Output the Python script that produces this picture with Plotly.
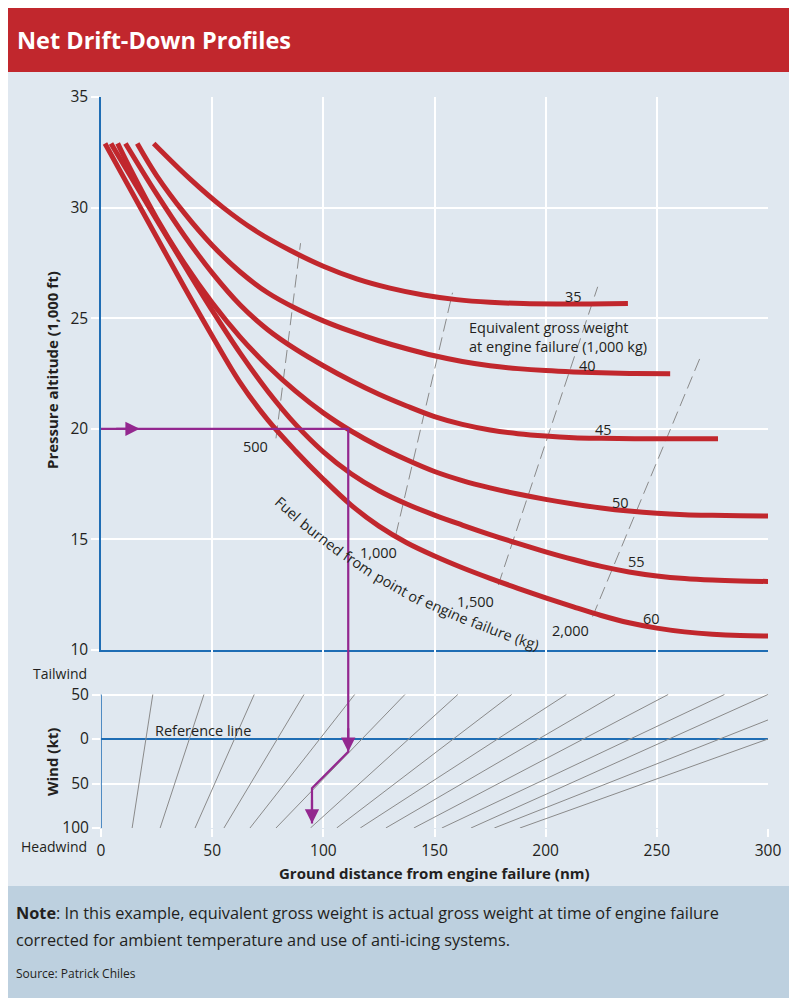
import plotly.graph_objects as go

# ---------------- data ----------------
# Net drift-down profiles: ground distance (nm) vs pressure altitude (1,000 ft)
DIST_35 = [23.7, 40, 55, 70, 85, 100, 115, 130, 145, 160, 175, 190, 205, 220, 237]
ALT_35 = [32.9, 31.3, 30.0, 28.92, 28.07, 27.35, 26.78, 26.36, 26.05, 25.84, 25.72, 25.66, 25.64, 25.64, 25.66]

DIST_40 = [16.3, 25, 37.5, 50, 62.5, 75, 87.5, 100, 112.5, 125, 137.5, 150, 162.5, 175, 187.5, 200, 212.5, 225, 240, 256]
ALT_40 = [32.9, 31.45, 29.75, 28.3, 27.1, 26.15, 25.45, 24.88, 24.4, 23.98, 23.62, 23.3, 23.04, 22.85, 22.72, 22.63, 22.57, 22.53, 22.5, 22.49]

DIST_45 = [11, 25, 37.5, 50, 62.5, 75, 87.5, 100, 112.5, 125, 137.5, 150, 162.5, 175, 187.5, 200, 212.5, 225, 240, 260, 277.5]
ALT_45 = [32.9, 30.62, 28.73, 27.05, 25.61, 24.48, 23.6, 22.85, 22.17, 21.56, 21.03, 20.55, 20.2, 19.95, 19.78, 19.67, 19.6, 19.57, 19.55, 19.55, 19.55]

DIST_50 = [7.5, 12.5, 25, 37.5, 50, 62.5, 75, 87.5, 100, 112.5, 125, 137.5, 150, 162.5, 175, 187.5, 200, 212.5, 225, 237.5, 250, 262.5, 275, 287.5, 300]
ALT_50 = [32.9, 31.88, 29.52, 27.48, 25.7, 24.16, 22.84, 21.7, 20.72, 19.9, 19.2, 18.6, 18.07, 17.66, 17.33, 17.05, 16.81, 16.6, 16.42, 16.28, 16.18, 16.12, 16.09, 16.07, 16.06]

DIST_55 = [4.5, 12.5, 25, 37.5, 50, 62.5, 75, 87.5, 100, 112.5, 125, 137.5, 150, 162.5, 175, 187.5, 200, 212.5, 225, 237.5, 250, 262.5, 275, 287.5, 300]
ALT_55 = [32.9, 31.55, 29.45, 27.38, 25.35, 23.43, 21.7, 20.2, 18.96, 17.97, 17.2, 16.6, 16.1, 15.65, 15.22, 14.82, 14.44, 14.09, 13.78, 13.53, 13.35, 13.23, 13.16, 13.12, 13.1]

DIST_60 = [1.8, 12.5, 25, 37.5, 50, 62.5, 75, 87.5, 100, 112.5, 125, 137.5, 150, 162.5, 175, 187.5, 200, 212.5, 225, 237.5, 250, 262.5, 275, 287.5, 300]
ALT_60 = [32.9, 30.95, 28.67, 26.4, 24.2, 22.1, 20.4, 19.0, 17.72, 16.55, 15.6, 14.85, 14.25, 13.72, 13.24, 12.79, 12.36, 11.95, 11.56, 11.23, 10.99, 10.82, 10.71, 10.65, 10.63]

WEIGHT_LABELS = ["35", "40", "45", "50", "55", "60"]

# Fuel burned from point of engine failure (kg): dashed guide lines
FUEL_LABELS = ["500", "1,000", "1,500", "2,000"]
FUEL_NM_LOW = [78.7, 132.6, 178.7, 221.1]
FUEL_ALT_LOW = [19.57, 15.2, 12.94, 11.51]
FUEL_NM_HIGH = [89.75, 158.1, 223.4, 270.0]
FUEL_ALT_HIGH = [28.39, 26.15, 26.42, 23.34]

# Wind correction guide lines (wind: + tailwind, - headwind, kt)
WIND_TOP_NM = [23.3, 46.3, 68.9, 91.3, 114.1, 136.7, 160.5, 184.7, 209.3, 231.2, 255.1, 280.4, 300.0, 300.0, 300.0]
WIND_TOP_KT = [50, 50, 50, 50, 50, 50, 50, 50, 50, 50, 50, 50, 50, 21.4, 0]
WIND_BOTTOM_NM = [14.0, 26.6, 42.3, 55.3, 67.0, 78.7, 94.2, 106.0, 116.6, 128.1, 140.7, 153.3, 166.4, 176.9, 188.4]
WIND_BOTTOM_KT = [-100] * 15

# Worked example
EX_ALTITUDE = 20.0
EX_DISTANCE = 111.2
EX_WIND_MEET = -14.3
EX_DISTANCE_CORR = 94.9
EX_WIND_CORR = -55.4
EX_WIND_END = -95.0

X_TICKS = [0, 50, 100, 150, 200, 250, 300]
ALT_TICKS = [10, 15, 20, 25, 30, 35]
WIND_TICKS = [50, 0, -50, -100]
WIND_TICKTEXT = ["50", "0", "50", "100"]

# ---------------- style ----------------
RED = "#c1272d"
BG = "#e0e8f0"
NOTE_BG = "#bdd0df"
BLUE = "#1f6db4"
PURPLE = "#93278f"
GRAY = "#8a8a8a"
INK = "#231f20"
FONT = "Open Sans, Noto Sans, sans-serif"

# page geometry (the page body adds an 8 px offset around the figure)
PAGE_OFF = 8
W, H = 797 - PAGE_OFF, 998 - PAGE_OFF
PLOT_L, PLOT_R, PLOT_T, PLOT_B = 101, 768, 97, 828  # page pixels
ML, MT = PLOT_L - PAGE_OFF, PLOT_T - PAGE_OFF
MR, MB = 797 - PLOT_R, 998 - PLOT_B
PW, PH = PLOT_R - PLOT_L, PLOT_B - PLOT_T
SPLIT = 178 / PH  # wind panel fraction


def px2x(px):
    return (px - PLOT_L) / PW


def py2y(py):
    return (PLOT_B - py) / PH


fig = go.Figure()

# wind guide lines
for i in range(len(WIND_TOP_NM)):
    fig.add_trace(go.Scatter(
        x=[WIND_BOTTOM_NM[i], WIND_TOP_NM[i]], y=[WIND_BOTTOM_KT[i], WIND_TOP_KT[i]],
        mode="lines", line=dict(color=GRAY, width=1), xaxis="x2", yaxis="y2",
        hoverinfo="skip", showlegend=False))

# fuel dashed lines
for i in range(len(FUEL_LABELS)):
    fig.add_trace(go.Scatter(
        x=[FUEL_NM_LOW[i], FUEL_NM_HIGH[i]], y=[FUEL_ALT_LOW[i], FUEL_ALT_HIGH[i]],
        mode="lines", line=dict(color=GRAY, width=1, dash="13px,6px"),
        hoverinfo="skip", showlegend=False))

# drift-down curves
curves = [(DIST_35, ALT_35), (DIST_40, ALT_40), (DIST_45, ALT_45),
          (DIST_50, ALT_50), (DIST_55, ALT_55), (DIST_60, ALT_60)]
for (d, a), lab in zip(curves, WEIGHT_LABELS):
    fig.add_trace(go.Scatter(
        x=d, y=a, mode="lines", name=lab,
        line=dict(color=RED, width=5, shape="spline", smoothing=1.0),
        hoverinfo="skip", showlegend=False))

# example path
fig.add_trace(go.Scatter(
    x=[0, EX_DISTANCE, EX_DISTANCE], y=[EX_ALTITUDE, EX_ALTITUDE, ALT_TICKS[0]],
    mode="lines", line=dict(color=PURPLE, width=2.2), hoverinfo="skip", showlegend=False))
fig.add_trace(go.Scatter(
    x=[EX_DISTANCE, EX_DISTANCE, EX_DISTANCE_CORR, EX_DISTANCE_CORR],
    y=[100, EX_WIND_MEET, EX_WIND_CORR, EX_WIND_END],
    mode="lines", line=dict(color=PURPLE, width=2.2), xaxis="x2", yaxis="y2",
    hoverinfo="skip", showlegend=False))

# ---------------- annotations ----------------
ann = []
tf = dict(family=FONT, size=14.5, color=INK)

LABEL_NM = [212.3, 218.9, 226.0, 233.6, 240.7, 247.6]
LABEL_ALT = [26.0, 22.84, 19.98, 16.66, 14.02, 11.43]
for t, x, y in zip(WEIGHT_LABELS, LABEL_NM, LABEL_ALT):
    ann.append(dict(x=x, y=y, xref="x", yref="y", text=t, showarrow=False, font=tf,
                    xanchor="center", yanchor="middle"))

FUEL_LAB_NM = [69.7, 124.6, 168.3, 211.0]
FUEL_LAB_ALT = [19.18, 14.4, 12.18, 10.87]
for t, x, y in zip(FUEL_LABELS, FUEL_LAB_NM, FUEL_LAB_ALT):
    ann.append(dict(x=x, y=y, xref="x", yref="y", text=t, showarrow=False, font=tf,
                    xanchor="center", yanchor="middle"))

ann.append(dict(x=164.5, y=24.17, xref="x", yref="y", xanchor="left", yanchor="middle",
                align="left", text="Equivalent gross weight<br>at engine failure (1,000 kg)",
                showarrow=False, font=tf))
ann.append(dict(x=23.2, y=9.3, xref="x2", yref="y2", xanchor="left", yanchor="middle",
                text="Reference line", showarrow=False, font=tf))

# arrows on the example path
arrow = dict(showarrow=True, arrowhead=2, arrowsize=1.3, arrowwidth=2.2,
             arrowcolor=PURPLE, text="")
ann.append(dict(x=17.4, y=EX_ALTITUDE, xref="x", yref="y", ax=-25, ay=0, **arrow))
ann.append(dict(x=EX_DISTANCE, y=EX_WIND_MEET, xref="x2", yref="y2", ax=0, ay=-25, **arrow))
ann.append(dict(x=EX_DISTANCE_CORR, y=EX_WIND_END, xref="x2", yref="y2", ax=0, ay=-25, **arrow))


def paper_text(px, py, text, font, xanchor="center", angle=0):
    return dict(x=px2x(px), y=py2y(py), xref="paper", yref="paper", text=text,
                showarrow=False, font=font, xanchor=xanchor, yanchor="middle",
                textangle=angle)


# curved caption "Fuel burned from point of engine failure (kg)", set word by word
CAPTION_WORDS = ["Fuel", "burned", "from", "point", "of", "engine", "failure", "(kg)"]
CAPTION_PX = [287.5, 322.3, 358.6, 391.0, 416.0, 446.5, 491.5, 527.0]
CAPTION_PY = [508.6, 537.2, 563.8, 583.5, 597.0, 610.5, 628.5, 641.5]
CAPTION_ANGLE = [42, 38, 34, 30, 27, 24, 21, 18]
for w, x, y, a in zip(CAPTION_WORDS, CAPTION_PX, CAPTION_PY, CAPTION_ANGLE):
    ann.append(paper_text(x, y, w, tf, angle=a))

bold = dict(family=FONT, size=15, color=INK)
ann.append(paper_text(52, 370, "<b>Pressure altitude (1,000 ft)</b>", bold, angle=-90))
ann.append(paper_text(52, 762, "<b>Wind (kt)</b>", bold, angle=-90))
ann.append(paper_text(434, 873, "<b>Ground distance from engine failure (nm)</b>", bold))
side = dict(family=FONT, size=14, color=INK)
ann.append(paper_text(89, 673, "Tailwind", side, xanchor="right"))
ann.append(paper_text(89, 847, "Headwind", side, xanchor="right"))

ann.append(paper_text(15, 40, "<b>Net Drift-Down Profiles</b>",
                      dict(family=FONT, size=23.5, color="white"), xanchor="left"))
note_font = dict(family=FONT, size=16.3, color=INK)
ann.append(paper_text(14, 913, "<b>Note</b>: In this example, equivalent gross weight is actual gross weight at time of engine failure",
                      note_font, xanchor="left"))
ann.append(paper_text(14, 940, "corrected for ambient temperature and use of anti-icing systems.",
                      note_font, xanchor="left"))
ann.append(paper_text(14, 973, "Source: Patrick Chiles",
                      dict(family=FONT, size=12, color=INK), xanchor="left"))

# ---------------- shapes ----------------
shapes = [
    dict(type="rect", xref="paper", yref="paper", layer="below", line=dict(width=0),
         x0=px2x(0), x1=px2x(797), y0=py2y(886), y1=py2y(72), fillcolor=BG),
    dict(type="rect", xref="paper", yref="paper", layer="below", line=dict(width=0),
         x0=px2x(0), x1=px2x(797), y0=py2y(72), y1=py2y(PAGE_OFF), fillcolor=RED),
    dict(type="rect", xref="paper", yref="paper", layer="below", line=dict(width=0),
         x0=px2x(0), x1=px2x(797), y0=py2y(998), y1=py2y(886), fillcolor=NOTE_BG),
    dict(type="line", xref="x2", yref="y2", x0=0, x1=0, y0=-100, y1=50,
         line=dict(color=BLUE, width=1.5)),
]

tickfont = dict(family=FONT, size=15.5, color=INK)
fig.update_layout(
    width=W, height=H, autosize=False,
    margin=dict(l=ML, r=MR, t=MT, b=MB, pad=0),
    paper_bgcolor="white", plot_bgcolor=BG,
    showlegend=False,
    xaxis=dict(domain=[0, 1], anchor="y", range=[0, 300], tickvals=X_TICKS,
               showticklabels=False, ticks="", showgrid=True, gridcolor="white", gridwidth=2,
               showline=True, linecolor=BLUE, linewidth=1.5, zeroline=False),
    yaxis=dict(domain=[SPLIT, 1], anchor="x", range=[10, 35], tickvals=ALT_TICKS,
               showgrid=True, gridcolor="white", gridwidth=2, zeroline=False,
               showline=True, linecolor=BLUE, linewidth=1.5,
               ticks="outside", ticklen=8, tickwidth=2, tickcolor="white", tickfont=tickfont),
    xaxis2=dict(domain=[0, 1], anchor="y2", matches="x", range=[0, 300], tickvals=X_TICKS,
                showgrid=True, gridcolor="white", gridwidth=2, zeroline=False, showline=False,
                ticks="outside", ticklen=8, tickwidth=2, tickcolor="white", tickfont=tickfont),
    yaxis2=dict(domain=[0, SPLIT], anchor="x2", range=[-100, 100], tickvals=WIND_TICKS,
                ticktext=WIND_TICKTEXT, showgrid=True, gridcolor="white", gridwidth=2,
                zeroline=True, zerolinecolor=BLUE, zerolinewidth=1.5, showline=False,
                ticks="outside", ticklen=8, tickwidth=2, tickcolor="white", tickfont=tickfont),
    annotations=ann,
    shapes=shapes,
)

fig.write_html("out.html")
